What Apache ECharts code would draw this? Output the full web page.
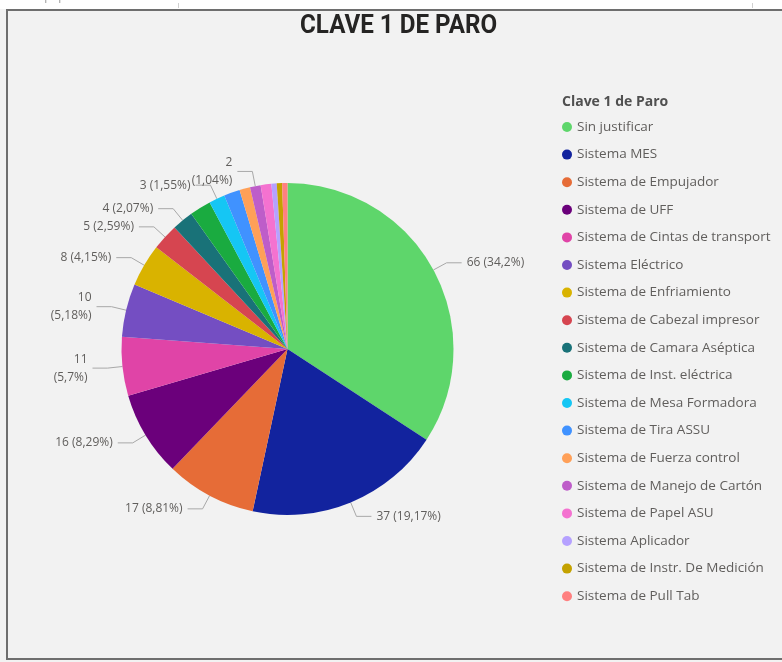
<!DOCTYPE html>
<html>
<head>
<meta charset="utf-8">
<script src="https://cdn.jsdelivr.net/npm/echarts@6/dist/echarts.min.js"></script>
<style>
  html, body { margin: 0; padding: 0; background: #ffffff; }
  #chart { width: 782px; height: 662px; }
</style>
</head>
<body>
<div id="chart"></div>
<script>
// Stop reasons ("Clave 1 de Paro") and number of stops for each
const categories = [
  'Sin justificar',
  'Sistema MES',
  'Sistema de Empujador',
  'Sistema de UFF',
  'Sistema de Cintas de transport',
  'Sistema Eléctrico',
  'Sistema de Enfriamiento',
  'Sistema de Cabezal impresor',
  'Sistema de Camara Aséptica',
  'Sistema de Inst. eléctrica',
  'Sistema de Mesa Formadora',
  'Sistema de Tira ASSU',
  'Sistema de Fuerza control',
  'Sistema de Manejo de Cartón',
  'Sistema de Papel ASU',
  'Sistema Aplicador',
  'Sistema de Instr. De Medición',
  'Sistema de Pull Tab'
];
const values = [66, 37, 17, 16, 11, 10, 8, 5, 4, 4, 3, 3, 2, 2, 2, 1, 1, 1];

const colors = [
  '#5ED66B', '#12239E', '#E66C37', '#6B007B', '#E044A7', '#744EC2',
  '#D9B300', '#D64550', '#197278', '#1AAB40', '#15C6F4', '#4092FF',
  '#FFA058', '#BE5DC9', '#F472D0', '#B5A1FF', '#C4A200', '#FF8080'
];

// Slices that carry a value label, and the labels that break onto two lines
const labelled = [
  'Sin justificar', 'Sistema MES', 'Sistema de Empujador', 'Sistema de UFF',
  'Sistema de Cintas de transport', 'Sistema Eléctrico', 'Sistema de Enfriamiento',
  'Sistema de Cabezal impresor', 'Sistema de Camara Aséptica',
  'Sistema de Mesa Formadora', 'Sistema de Manejo de Cartón'
];
const wrapped = ['Sistema de Cintas de transport', 'Sistema Eléctrico', 'Sistema de Manejo de Cartón'];

const chartTitle = 'CLAVE 1 DE PARO';
const legendTitle = 'Clave 1 de Paro';

const total = values.reduce((a, b) => a + b, 0);
function pct(v) {
  return (v / total * 100).toFixed(2).replace(/\.?0+$/, '').replace('.', ',') + '%';
}

const uiFont = "'Segoe UI', 'Open Sans', 'Noto Sans', sans-serif";
const textGrey = '#605E5C';

const pieData = categories.map((name, i) => {
  const on = labelled.includes(name);
  return { name: name, value: values[i], label: { show: on }, labelLine: { show: on } };
});

const chart = echarts.init(document.getElementById('chart'), null, { renderer: 'canvas' });

chart.setOption({
  animation: false,
  backgroundColor: '#F2F2F2',
  color: colors,
  title: [
    {
      text: legendTitle,
      left: 562,
      top: 95,
      padding: 0,
      textStyle: {
        fontFamily: uiFont,
        fontWeight: 'bold',
        fontSize: 14,
        color: '#505050'
      }
    }
  ],
  legend: {
    orient: 'vertical',
    left: 562,
    top: 119,
    padding: 0,
    icon: 'circle',
    itemWidth: 10,
    itemHeight: 10,
    itemGap: 11.6,
    selectedMode: false,
    textStyle: {
      fontFamily: uiFont,
      fontSize: 13.5,
      lineHeight: 16,
      color: textGrey
    },
    data: categories
  },
  graphic: [
    // strip above the frame
    { type: 'rect', shape: { x: 0, y: 0, width: 782, height: 9 }, style: { fill: '#ffffff' }, silent: true },
    { type: 'text', x: 14, y: -9, style: { text: 'Portapapeles', font: "12px 'Open Sans'", fill: '#9a9a9a' }, silent: true },
    { type: 'text', x: 447, y: -9, style: { text: 'Datos', font: "12px 'Open Sans'", fill: '#9a9a9a' }, silent: true },
    { type: 'rect', shape: { x: 178, y: 3, width: 1, height: 5 }, style: { fill: '#d0d0d0' }, silent: true },
    { type: 'rect', shape: { x: 752, y: 3, width: 1, height: 5 }, style: { fill: '#d0d0d0' }, silent: true },
    // visual frame
    {
      type: 'rect',
      shape: { x: 7, y: 10, width: 800, height: 649 },
      style: { fill: 'none', stroke: '#6E6E6E', lineWidth: 2 },
      silent: true
    },
    // condensed heading
    {
      type: 'text',
      x: 300,
      y: 13,
      scaleX: 0.93,
      silent: true,
      style: {
        text: chartTitle,
        font: "bold 26px 'Roboto', sans-serif",
        fill: '#252423',
        textAlign: 'left',
        textVerticalAlign: 'top'
      }
    }
  ],
  series: [
    {
      type: 'pie',
      center: [287.5, 349],
      radius: 166,
      startAngle: 90,
      clockwise: true,
      avoidLabelOverlap: false,
      itemStyle: { borderWidth: 0 },
      emphasis: { disabled: true },
      label: {
        position: 'outside',
        fontFamily: uiFont,
        fontSize: 12,
        lineHeight: 18,
        color: textGrey,
        distanceToLabelLine: 5,
        formatter: p => p.value + (wrapped.includes(p.name) ? '\n' : ' ') + '(' + pct(p.value) + ')'
      },
      labelLine: {
        length: 15,
        length2: 15,
        lineStyle: { color: '#A8A8A8', width: 1 }
      },
      data: pieData
    }
  ]
});
</script>
</body>
</html>
